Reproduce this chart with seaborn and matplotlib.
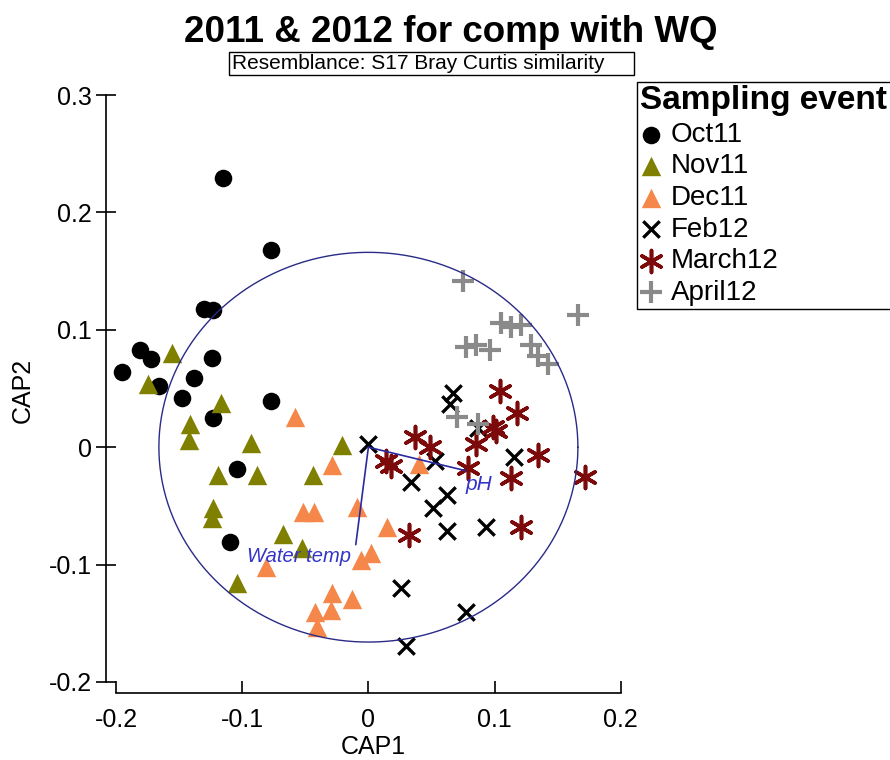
import numpy as np
import matplotlib
matplotlib.use("Agg")
import matplotlib.pyplot as plt
from matplotlib.patches import Rectangle
import seaborn as sns

sns.set_style("white")
plt.rcParams["font.family"] = ["Liberation Sans", "DejaVu Sans"]
plt.rcParams["text.color"] = "black"
plt.rcParams["axes.labelcolor"] = "black"
plt.rcParams["xtick.color"] = "black"
plt.rcParams["ytick.color"] = "black"

# CAP ordination scores per sampling event
oct11_x = [-0.115, -0.077, -0.130, -0.123, -0.181, -0.172, -0.195, -0.124, -0.138, -0.166, -0.148, -0.077, -0.123, -0.104, -0.110]
oct11_y = [0.229, 0.168, 0.118, 0.117, 0.083, 0.075, 0.064, 0.076, 0.059, 0.052, 0.042, 0.039, 0.025, -0.019, -0.081]

nov11_x = [-0.156, -0.175, -0.117, -0.141, -0.142, -0.093, -0.021, -0.119, -0.088, -0.044, -0.123, -0.124, -0.068, -0.053, -0.104]
nov11_y = [0.080, 0.054, 0.038, 0.020, 0.006, 0.004, 0.002, -0.024, -0.024, -0.024, -0.052, -0.060, -0.074, -0.086, -0.116]

dec11_x = [-0.058, -0.029, -0.052, -0.043, -0.009, 0.015, 0.002, -0.006, -0.081, -0.029, -0.013, -0.042, -0.030, -0.041, 0.040]
dec11_y = [0.026, -0.015, -0.055, -0.055, -0.051, -0.068, -0.090, -0.096, -0.102, -0.124, -0.129, -0.140, -0.139, -0.153, -0.014]

feb12_x = [0.000, 0.067, 0.065, 0.087, 0.053, 0.115, 0.034, 0.062, 0.051, 0.062, 0.093, 0.026, 0.077, 0.030]
feb12_y = [0.003, 0.046, 0.037, 0.016, -0.012, -0.008, -0.030, -0.041, -0.052, -0.071, -0.068, -0.120, -0.140, -0.169]

mar12_x = [0.104, 0.118, 0.101, 0.099, 0.037, 0.049, 0.085, 0.014, 0.018, 0.079, 0.134, 0.113, 0.172, 0.032, 0.121]
mar12_y = [0.048, 0.029, 0.014, 0.017, 0.009, 0.000, 0.003, -0.012, -0.016, -0.018, -0.007, -0.026, -0.025, -0.075, -0.068]

apr12_x = [0.075, 0.166, 0.105, 0.113, 0.121, 0.077, 0.085, 0.096, 0.129, 0.134, 0.142, 0.070, 0.087]
apr12_y = [0.142, 0.113, 0.106, 0.102, 0.104, 0.085, 0.087, 0.083, 0.087, 0.078, 0.071, 0.026, 0.020]

events = ["Oct11", "Nov11", "Dec11", "Feb12", "March12", "April12"]
xs = [oct11_x, nov11_x, dec11_x, feb12_x, mar12_x, apr12_x]
ys = [oct11_y, nov11_y, dec11_y, feb12_y, mar12_y, apr12_y]

# environmental vectors (water quality correlations)
vec_names = ["pH", "Water temp"]
vec_x = [0.077, -0.010]
vec_y = [-0.020, -0.083]
circle_r = 0.166

x_ticks = [-0.2, -0.1, 0, 0.1, 0.2]
x_ticklabels = ["-0.2", "-0.1", "0", "0.1", "0.2"]
y_ticks = [-0.2, -0.1, 0, 0.1, 0.2, 0.3]
y_ticklabels = ["-0.2", "-0.1", "0", "0.1", "0.2", "0.3"]

styles = {
    "Oct11":   dict(marker="o", color="black", s=160, linewidth=0),
    "Nov11":   dict(marker="^", color="#7f7f00", s=195, linewidth=0),
    "Dec11":   dict(marker="^", color="#f5874a", s=195, linewidth=0),
    "Feb12":   dict(marker="x", color="black", s=140, linewidth=2.4),
    "March12": dict(marker=(6, 2, 0), color="#7d0a0a", s=250, linewidth=2.6),
    "April12": dict(marker="+", color="#8a8a8a", s=260, linewidth=3.0),
}

W, H = 890, 760
fig = plt.figure(figsize=(W / 100, H / 100), dpi=100)
ax = fig.add_axes([106 / W, 1 - 693 / H, 534 / W, 605 / H])

for name, x, y in zip(events, xs, ys):
    st = styles[name]
    sns.scatterplot(x=x, y=y, ax=ax, label=name, clip_on=False, zorder=3, **st)

# correlation circle and vectors
t = np.linspace(0, 2 * np.pi, 500)
ax.plot(circle_r * np.cos(t), circle_r * np.sin(t), color="#2a2a88", lw=1.0, zorder=4)
for vx, vy in zip(vec_x, vec_y):
    ax.plot([0, vx], [0, vy], color="#2a2aa0", lw=1.2, zorder=4)
ax.text(vec_x[0] + 0.0, vec_y[0] - 0.004, vec_names[0], color="#3434c8",
        fontsize=15, style="italic", ha="left", va="top", zorder=5)
ax.text(vec_x[1] - 0.004, vec_y[1] - 0.002, vec_names[1], color="#3434c8",
        fontsize=14.5, style="italic", ha="right", va="top", zorder=5)

ax.set_xlim(-0.2079, 0.2152)
ax.set_ylim(-0.2094, 0.306)
sns.despine(ax=ax)
for sp in ("left", "bottom"):
    ax.spines[sp].set_color("black")
    ax.spines[sp].set_linewidth(1.2)
ax.spines["left"].set_bounds(-0.2, 0.3)
ax.spines["bottom"].set_bounds(-0.2, 0.2)

ax.set_xticks(x_ticks)
ax.set_xticklabels(x_ticklabels)
ax.set_yticks(y_ticks)
ax.set_yticklabels(y_ticklabels)
ax.tick_params(axis="x", direction="in", length=9, width=1.2, color="black",
               labelsize=18, pad=11, bottom=True)
ax.tick_params(axis="y", direction="inout", length=14, width=1.2, color="black",
               labelsize=18, pad=3, left=True)
ax.set_xlabel("CAP1", fontsize=18, labelpad=2)
ax.set_ylabel("CAP2", fontsize=18, labelpad=10)

leg = ax.legend(loc="upper left", bbox_to_anchor=(637 / W, 1 - 82 / H),
                bbox_transform=fig.transFigure, borderaxespad=0,
                title="Sampling event", fontsize=20, frameon=True,
                fancybox=False, edgecolor="black", framealpha=1,
                handletextpad=0.3, handlelength=0.8, borderpad=0.12,
                labelspacing=0.2, alignment="left",
                title_fontproperties={"weight": "bold", "size": 24})
leg.get_frame().set_linewidth(1.0)

fig.text(451 / W, 1 - 33 / H, "2011 & 2012 for comp with WQ", fontsize=26.5,
         fontweight="bold", ha="center", va="center")
fig.patches.append(Rectangle((229 / W, 1 - 75 / H), 405 / W, 23 / H,
                             transform=fig.transFigure, fill=False,
                             edgecolor="black", linewidth=1.0))
fig.text(232 / W, 1 - 63.5 / H, "Resemblance: S17 Bray Curtis similarity",
         fontsize=15, ha="left", va="center")

fig.savefig("out.png", dpi=100)
